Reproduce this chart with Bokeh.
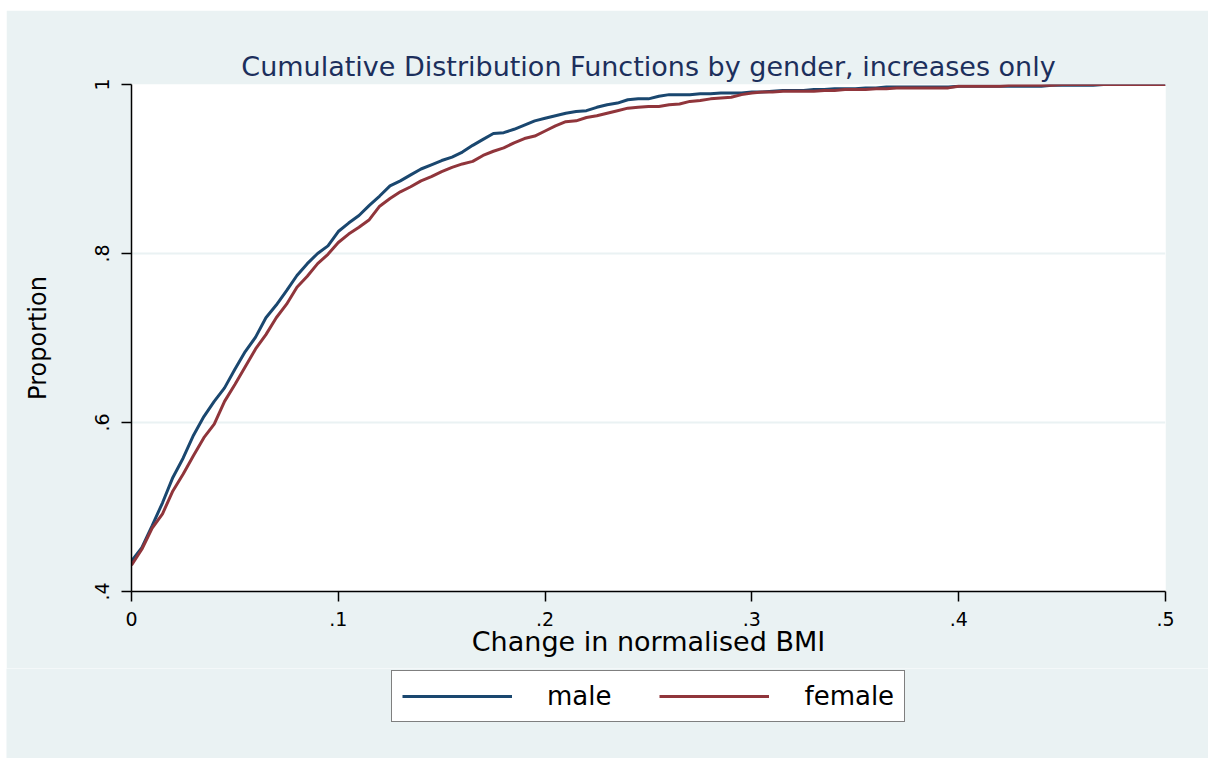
from bokeh.plotting import figure
from bokeh.models import (ColumnDataSource, FixedTicker, Legend, LegendItem, Spacer)
from bokeh.layouts import column, row
from bokeh.embed import file_html
from bokeh.resources import INLINE

# Change in normalised BMI (grid shared by both curves)
bmi_change = [round(i * 0.005, 3) for i in range(101)]

# Cumulative proportion, males
male_cdf = [
    0.436, 0.452, 0.478, 0.505, 0.535, 0.558, 0.585, 0.607, 0.625, 0.641,
    0.663, 0.684, 0.701, 0.724, 0.739, 0.756, 0.774, 0.788, 0.800, 0.809,
    0.826, 0.836, 0.845, 0.857, 0.868, 0.880, 0.886, 0.893, 0.900, 0.905,
    0.910, 0.914, 0.920, 0.928, 0.935, 0.942, 0.943, 0.947, 0.952, 0.957,
    0.960, 0.963, 0.966, 0.968, 0.969, 0.973, 0.976, 0.978, 0.982, 0.983,
    0.983, 0.986, 0.988, 0.988, 0.988, 0.989, 0.989, 0.990, 0.990, 0.990,
    0.991, 0.991, 0.992, 0.993, 0.993, 0.993, 0.994, 0.994, 0.995, 0.995,
    0.995, 0.996, 0.996, 0.997, 0.997, 0.997, 0.997, 0.997, 0.997, 0.997,
    0.998, 0.998, 0.998, 0.998, 0.998, 0.998, 0.998, 0.998, 0.998, 0.999,
    0.999, 0.999, 0.999, 0.999, 1.000, 1.000, 1.000, 1.000, 1.000, 1.000,
    1.000,
]

# Cumulative proportion, females
female_cdf = [
    0.431, 0.450, 0.475, 0.492, 0.519, 0.539, 0.561, 0.582, 0.598, 0.625,
    0.645, 0.666, 0.687, 0.704, 0.724, 0.740, 0.760, 0.773, 0.788, 0.799,
    0.813, 0.823, 0.831, 0.840, 0.856, 0.865, 0.873, 0.879, 0.886, 0.891,
    0.897, 0.902, 0.906, 0.909, 0.916, 0.921, 0.925, 0.931, 0.936, 0.939,
    0.945, 0.951, 0.956, 0.957, 0.961, 0.963, 0.966, 0.969, 0.972, 0.973,
    0.974, 0.974, 0.976, 0.977, 0.980, 0.981, 0.983, 0.984, 0.985, 0.988,
    0.990, 0.991, 0.991, 0.992, 0.992, 0.992, 0.992, 0.993, 0.993, 0.994,
    0.994, 0.994, 0.995, 0.995, 0.996, 0.996, 0.996, 0.996, 0.996, 0.996,
    0.998, 0.998, 0.998, 0.998, 0.998, 0.999, 0.999, 0.999, 0.999, 0.999,
    1.000, 1.000, 1.000, 1.000, 1.000, 1.000, 1.000, 1.000, 1.000, 1.000,
    1.000,
]

x_ticks = [0, 0.1, 0.2, 0.3, 0.4, 0.5]
x_tick_labels = ["0", ".1", ".2", ".3", ".4", ".5"]
y_ticks = [0.4, 0.6, 0.8, 1.0]
y_tick_labels = [".4", ".6", ".8", "1"]

FONT = "DejaVu Sans"
BG = "#EAF2F3"
MALE_COLOR = "#1A476F"
FEMALE_COLOR = "#90353B"
LINE_W = 3

src = ColumnDataSource(dict(x=bmi_change, male=male_cdf, female=female_cdf))

# ---- main chart ----
p = figure(
    width=1202, height=658,
    x_range=(0, 0.5), y_range=(0.4, 1.0),
    output_backend="svg", toolbar_location=None,
    min_border_left=125, min_border_right=43,
    min_border_top=74, min_border_bottom=77,
)
p.border_fill_color = BG
p.background_fill_color = "white"
p.outline_line_color = None

p.title.text = "Cumulative Distribution Functions by gender, increases only"
p.title.align = "center"
p.title.text_font = FONT
p.title.text_font_size = "27px"
p.title.text_font_style = "normal"
p.title.text_color = "#1C2F5C"
p.title.standoff = 6

p.line("x", "male", source=src, line_color=MALE_COLOR, line_width=LINE_W)
p.line("x", "female", source=src, line_color=FEMALE_COLOR, line_width=LINE_W)

for ax in (p.xaxis[0], p.yaxis[0]):
    ax.axis_line_color = "black"
    ax.axis_line_width = 1.5
    ax.major_tick_line_color = "black"
    ax.major_tick_line_width = 1.5
    ax.major_tick_in = 0
    ax.major_tick_out = 10
    ax.minor_tick_line_color = None
    ax.major_label_text_font = FONT
    ax.major_label_text_font_size = "19px"
    ax.major_label_text_color = "black"
    ax.axis_label_text_font = FONT
    ax.axis_label_text_font_style = "normal"
    ax.axis_label_text_color = "black"

p.xaxis.ticker = FixedTicker(ticks=x_ticks)
p.xaxis.major_label_overrides = dict(zip(x_ticks, x_tick_labels))
p.xaxis.axis_label = "Change in normalised BMI"
p.xaxis.axis_label_text_font_size = "27px"
p.xaxis.major_label_standoff = 10
p.xaxis.axis_label_standoff = -3

p.yaxis.ticker = FixedTicker(ticks=y_ticks)
p.yaxis.major_label_overrides = dict(zip(y_ticks, y_tick_labels))
p.yaxis.major_label_orientation = "vertical"
p.yaxis.axis_label = "Proportion"
p.yaxis.axis_label_text_font_size = "24px"
p.yaxis.major_label_standoff = 13
p.yaxis.axis_label_standoff = 40

p.xgrid.grid_line_color = None
p.ygrid.grid_line_color = BG
p.ygrid.grid_line_width = 2

# ---- legend strip below the chart (its frame spans the whole strip) ----
leg = figure(
    width=1202, height=90,
    x_range=(2, 3), y_range=(2, 3),
    x_axis_type=None, y_axis_type=None,
    output_backend="svg", toolbar_location=None,
    min_border=0,
)
leg.border_fill_color = BG
leg.background_fill_color = BG
leg.outline_line_color = None
leg.grid.visible = False
male_key = leg.line("x", "male", source=src, line_color=MALE_COLOR, line_width=LINE_W)
female_key = leg.line("x", "female", source=src, line_color=FEMALE_COLOR, line_width=LINE_W)

legend = Legend(
    items=[LegendItem(label="male", renderers=[male_key]),
           LegendItem(label="female", renderers=[female_key])],
    orientation="horizontal",
    location=(385, 36),
    padding=10, margin=0, spacing=48,
    glyph_width=110, glyph_height=20, label_height=20,
    label_standoff=35,
    label_text_font=FONT, label_text_font_size="26px", label_text_color="black",
    border_line_color="black", border_line_width=1.5,
    background_fill_color="white", background_fill_alpha=1.0,
)
leg.add_layout(legend, "center")

page = column(
    Spacer(height=10),
    row(Spacer(width=6), p),
    row(Spacer(width=6), leg),
    spacing=0,
)
open("out.html", "w").write(file_html(page, INLINE))
